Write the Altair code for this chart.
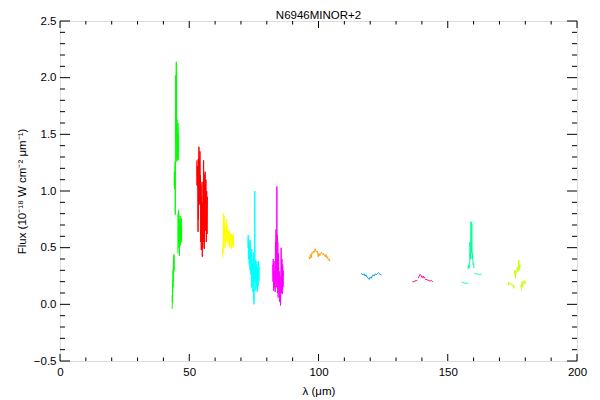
import altair as alt
import pandas as pd

# ---------------- data (wavelength in micron, flux in 1e-18 W cm^-2 um^-1) ----------------
green_a_lam = [43.40, 43.45, 43.50, 43.55, 43.60, 43.65, 43.70, 43.75, 43.80, 43.85, 43.90, 43.95, 44.00, 44.05, 44.10, 44.15]
green_a_flux = [-0.04, 0.08, 0.02, 0.18, 0.10, 0.21, 0.15, 0.30, 0.20, 0.34, 0.25, 0.38, 0.28, 0.44, 0.30, 0.42]

green_b_lam = [44.15, 44.25, 44.35, 44.45, 44.55, 44.60, 44.65, 44.70, 44.80, 44.90, 45.00, 45.05, 45.10, 45.15, 45.25, 45.35, 45.45, 45.55, 45.65, 45.75, 45.85, 45.90]
green_b_flux = [1.05, 1.17, 1.02, 1.15, 1.26, 0.79, 1.30, 2.02, 1.45, 1.95, 2.14, 1.60, 2.05, 1.26, 1.63, 1.28, 1.55, 1.30, 1.60, 1.27, 1.50, 1.35]

green_c_lam = [45.60, 45.70, 45.80, 45.90, 46.00, 46.10, 46.20, 46.30, 46.40, 46.50, 46.60, 46.70, 46.80, 46.90, 47.00, 47.10]
green_c_flux = [0.45, 0.80, 0.55, 0.83, 0.50, 0.75, 0.43, 0.70, 0.55, 0.78, 0.52, 0.72, 0.58, 0.76, 0.55, 0.68]

red_lam = [52.90, 53.00, 53.10, 53.20, 53.30, 53.40, 53.45, 53.55, 53.65, 53.75, 53.85, 53.95, 54.05, 54.15, 54.25,
           54.35, 54.45, 54.55, 54.65, 54.75, 54.85, 54.95, 55.05, 55.15, 55.25, 55.35, 55.45, 55.55, 55.65, 55.75,
           55.85, 55.95, 56.05, 56.15, 56.30, 56.45, 56.60, 56.75, 56.90, 57.05]
red_flux = [1.27, 1.05, 1.22, 1.04, 1.20, 0.64, 1.28, 0.75, 1.20, 1.39, 0.90, 1.30, 0.88, 1.35, 0.95,
            1.14, 0.55, 1.05, 0.48, 0.95, 0.60, 1.08, 0.42, 0.90, 0.50, 0.85, 0.55, 1.27, 0.60, 1.15,
            0.49, 1.05, 0.70, 1.17, 0.65, 1.10, 0.55, 1.00, 0.62, 0.95]

yellow_lam = [62.90, 63.00, 63.10, 63.20, 63.30, 63.45, 63.60, 63.75, 63.90, 64.05, 64.20, 64.35, 64.50, 64.65, 64.80,
              64.95, 65.10, 65.25, 65.40, 65.55, 65.70, 65.85, 66.00, 66.20, 66.40, 66.60, 66.80, 67.00, 67.20]
yellow_flux = [0.41, 0.50, 0.45, 0.80, 0.48, 0.78, 0.55, 0.72, 0.50, 0.68, 0.60, 0.75, 0.55, 0.70, 0.58,
               0.66, 0.52, 0.64, 0.57, 0.65, 0.50, 0.63, 0.55, 0.62, 0.49, 0.60, 0.52, 0.62, 0.50]

cyan_lam = [72.70, 72.80, 72.90, 73.00, 73.10, 73.20, 73.35, 73.50, 73.60, 73.70, 73.85, 74.00, 74.10, 74.20, 74.35,
            74.50, 74.60, 74.70, 74.85, 74.95, 75.05, 75.15, 75.30, 75.35, 75.45, 75.60, 75.75, 75.90, 76.05, 76.20,
            76.35, 76.50, 76.65, 76.80, 76.95, 77.10]
cyan_flux = [0.50, 0.61, 0.40, 0.58, 0.45, 0.35, 0.55, 0.30, 0.57, 0.40, 0.26, 0.45, 0.15, 0.49, 0.20,
             0.35, 0.11, 0.40, 0.05, 0.46, 0.00, 0.30, 0.20, 1.00, 0.22, 0.39, 0.12, 0.35, 0.15, 0.38,
             0.11, 0.32, 0.16, 0.38, 0.20, 0.33]

magenta_lam = [82.30, 82.40, 82.50, 82.65, 82.80, 82.95, 83.10, 83.25, 83.35, 83.45, 83.55, 83.65, 83.75, 83.85, 83.90,
               83.95, 84.05, 84.15, 84.25, 84.40, 84.55, 84.70, 84.85, 85.00, 85.15, 85.30, 85.45, 85.55, 85.70, 85.85,
               86.00, 86.15, 86.30, 86.45]
magenta_flux = [0.35, 0.20, 0.40, 0.12, 0.38, 0.15, 0.30, 0.11, 0.55, 0.20, 0.66, 0.15, 0.60, 0.30, 1.04,
                0.25, 0.61, 0.10, 0.55, 0.06, 0.45, 0.15, 0.29, 0.02, 0.25, -0.01, 0.20, 0.50, 0.10, 0.40,
                0.09, 0.35, 0.15, 0.30]

orange_lam = [96.3, 96.6, 96.9, 97.2, 97.5, 97.8, 98.1, 98.4, 98.7, 99.0, 99.3, 99.6, 99.9, 100.2, 100.5, 100.8,
              101.1, 101.4, 101.7, 102.0, 102.3, 102.6, 102.9, 103.2, 103.5, 103.8, 104.1, 104.4]
orange_flux = [0.42, 0.40, 0.44, 0.41, 0.46, 0.45, 0.47, 0.46, 0.49, 0.47, 0.46, 0.47, 0.42, 0.45, 0.43, 0.44,
               0.46, 0.45, 0.44, 0.45, 0.43, 0.42, 0.44, 0.41, 0.42, 0.39, 0.40, 0.38]

blue_lam = [116.4, 116.8, 117.2, 117.6, 118.0, 118.4, 118.8, 119.2, 119.6, 120.0, 120.4, 120.8, 121.2, 121.6, 122.0,
            122.4, 122.8, 123.2, 123.6, 124.0, 124.4]
blue_flux = [0.27, 0.27, 0.26, 0.27, 0.25, 0.26, 0.24, 0.23, 0.22, 0.24, 0.23, 0.25, 0.26, 0.25, 0.27,
             0.26, 0.27, 0.28, 0.27, 0.26, 0.26]

pink_a_lam = [136.3, 136.8, 137.3, 137.8, 138.2]
pink_a_flux = [0.20, 0.20, 0.205, 0.21, 0.21]
pink_b_lam = [138.5, 138.9, 139.3, 139.7, 140.1, 140.5, 140.9, 141.2]
pink_b_flux = [0.23, 0.245, 0.265, 0.255, 0.235, 0.25, 0.23, 0.24]
pink_c_lam = [141.2, 141.7, 142.2, 142.7, 143.2, 143.7, 144.2]
pink_c_flux = [0.22, 0.22, 0.215, 0.21, 0.205, 0.21, 0.20]

teal_a_lam = [155.4, 155.8, 156.2, 156.6, 157.0, 157.4, 157.7]
teal_a_flux = [0.20, 0.19, 0.19, 0.185, 0.19, 0.18, 0.19]
teal_b_lam = [157.8, 158.0, 158.2, 158.5, 158.6, 158.75, 158.9, 159.0, 159.15, 159.3, 159.45, 159.6, 159.8, 160.0, 160.2]
teal_b_flux = [0.31, 0.35, 0.32, 0.35, 0.55, 0.40, 0.55, 0.73, 0.45, 0.72, 0.40, 0.45, 0.35, 0.36, 0.32]
teal_c_lam = [160.3, 160.7, 161.1, 161.5, 161.9, 162.3, 162.7, 163.1]
teal_c_flux = [0.27, 0.275, 0.265, 0.27, 0.265, 0.26, 0.265, 0.26]

lime_a_lam = [173.4, 173.6, 173.8, 174.1, 174.4, 174.7, 175.0, 175.3, 175.5, 175.7]
lime_a_flux = [0.20, 0.17, 0.19, 0.18, 0.185, 0.17, 0.175, 0.16, 0.14, 0.17]
lime_b_lam = [175.8, 176.0, 176.2, 176.4, 176.7, 176.9, 177.1, 177.3, 177.5, 177.6, 177.8, 178.0, 178.2]
lime_b_flux = [0.26, 0.30, 0.23, 0.29, 0.28, 0.33, 0.29, 0.31, 0.39, 0.30, 0.35, 0.33, 0.34]
lime_c_lam = [178.3, 178.5, 178.7, 178.9, 179.2, 179.5, 179.8, 180.1, 180.4]
lime_c_flux = [0.17, 0.13, 0.20, 0.15, 0.19, 0.21, 0.18, 0.20, 0.205]

pieces = [
    ("g1", "#00FF00", green_a_lam, green_a_flux),
    ("g2", "#00FF00", green_b_lam, green_b_flux),
    ("g3", "#00FF00", green_c_lam, green_c_flux),
    ("r", "#FF0000", red_lam, red_flux),
    ("y", "#FFFF00", yellow_lam, yellow_flux),
    ("c", "#00FFFF", cyan_lam, cyan_flux),
    ("m", "#FF00FF", magenta_lam, magenta_flux),
    ("o", "#FFA000", orange_lam, orange_flux),
    ("b", "#0096FF", blue_lam, blue_flux),
    ("p1", "#FF0096", pink_a_lam, pink_a_flux),
    ("p2", "#FF0096", pink_b_lam, pink_b_flux),
    ("p3", "#FF0096", pink_c_lam, pink_c_flux),
    ("t1", "#00FFA0", teal_a_lam, teal_a_flux),
    ("t2", "#00FFA0", teal_b_lam, teal_b_flux),
    ("t3", "#00FFA0", teal_c_lam, teal_c_flux),
    ("l1", "#C8FF00", lime_a_lam, lime_a_flux),
    ("l2", "#C8FF00", lime_b_lam, lime_b_flux),
    ("l3", "#C8FF00", lime_c_lam, lime_c_flux),
]

x_major = [0, 50, 100, 150, 200]
x_minor = [10, 20, 30, 40, 60, 70, 80, 90, 110, 120, 130, 140, 160, 170, 180, 190]
y_major = [-0.5, 0.0, 0.5, 1.0, 1.5, 2.0, 2.5]
y_minor = [-0.4, -0.3, -0.2, -0.1, 0.1, 0.2, 0.3, 0.4, 0.6, 0.7, 0.8, 0.9, 1.1, 1.2, 1.3, 1.4,
           1.6, 1.7, 1.8, 1.9, 2.1, 2.2, 2.3, 2.4]

rows = []
for seg, col, lams, fl in pieces:
    for i, (l, f) in enumerate(zip(lams, fl)):
        rows.append({"seg": seg, "col": col, "lam": l, "flux": f, "i": i})
df = pd.DataFrame(rows)

W, H = 517, 340
FONT = "Liberation Sans"

xs = alt.Scale(domain=[0, 200], nice=False, zero=False)
ys = alt.Scale(domain=[-0.5, 2.5], nice=False, zero=False)

lines = alt.Chart(df).mark_line(strokeWidth=1, strokeCap="butt").encode(
    x=alt.X("lam:Q", scale=xs,
            axis=alt.Axis(values=x_major, format="d", title="λ (μm)", domain=False, ticks=False,
                          grid=False, labelFlush=False, labelPadding=5, titlePadding=8,
                          labelFontSize=11.5, titleFontSize=11.5, titleFontWeight="normal",
                          labelColor="black", titleColor="black", labelFont=FONT, titleFont=FONT)),
    y=alt.Y("flux:Q", scale=ys,
            axis=alt.Axis(values=y_major, format=".1f", title="Flux (10⁻¹⁸ W cm⁻² μm⁻¹)",
                          domain=False, ticks=False, grid=False, labelFlush=False, labelPadding=4,
                          titlePadding=6, labelFontSize=11.5, titleFontSize=11.5,
                          titleFontWeight="normal", labelColor="black", titleColor="black",
                          labelFont=FONT, titleFont=FONT)),
    color=alt.Color("col:N", scale=None),
    detail="seg:N",
    order="i:Q",
)

def xticks(vals, length):
    d = pd.DataFrame({"v": vals})
    bottom = alt.Chart(d).mark_rule(color="black", strokeWidth=1).encode(
        x=alt.X("v:Q", scale=xs), y=alt.value(H), y2=alt.value(H - length))
    top = alt.Chart(d).mark_rule(color="black", strokeWidth=1).encode(
        x=alt.X("v:Q", scale=xs), y=alt.value(0), y2=alt.value(length))
    return [bottom, top]

def yticks(vals, length):
    d = pd.DataFrame({"v": vals})
    left = alt.Chart(d).mark_rule(color="black", strokeWidth=1).encode(
        y=alt.Y("v:Q", scale=ys), x=alt.value(0), x2=alt.value(length))
    right = alt.Chart(d).mark_rule(color="black", strokeWidth=1).encode(
        y=alt.Y("v:Q", scale=ys), x=alt.value(W), x2=alt.value(W - length))
    return [left, right]

layers = [lines] + xticks(x_major, 7) + xticks(x_minor, 3.5) + yticks(y_major, 10) + yticks(y_minor, 5)

chart = alt.layer(*layers).properties(
    width=W, height=H,
    title=alt.TitleParams("N6946MINOR+2", fontSize=11.5, fontWeight="normal", font=FONT,
                          color="black", offset=-6, anchor="middle", frame="group"),
    autosize=alt.AutoSizeParams(type="none"),
    padding={"left": 52, "top": 13, "right": 15, "bottom": 39},
).configure_view(stroke="black", strokeWidth=1).configure(background="white")

chart.save("out.html", embed_options={"renderer": "svg", "actions": False})
